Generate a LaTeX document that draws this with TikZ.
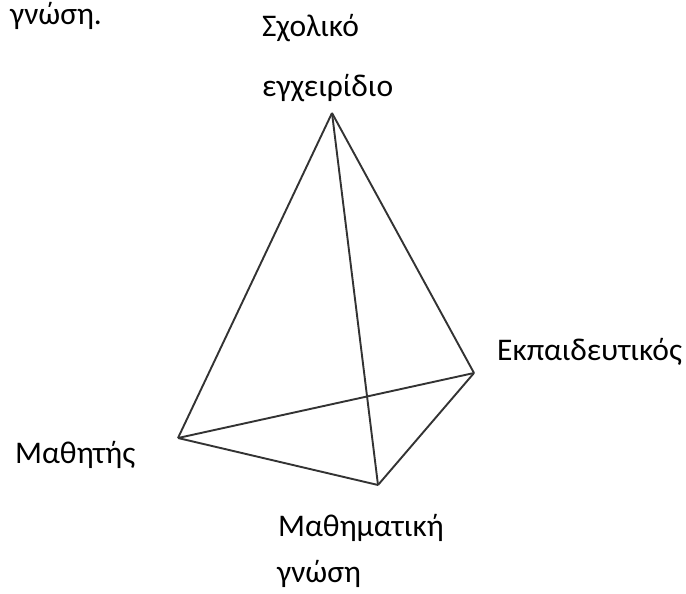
\documentclass[tikz,border=0pt]{standalone}
\usepackage{fontspec}
\setmainfont{Carlito}
\begin{document}
\begin{tikzpicture}[x=1pt,y=-1pt,
  lbl/.style={anchor=base west,inner sep=0pt,font=\fontsize{31.5}{31.5}\selectfont},
  edge/.style={draw=black!80,line width=1.9pt,line join=round}]
\useasboundingbox (0,0) rectangle (686,594);
\coordinate (A) at (332,113);
\coordinate (L) at (178,438);
\coordinate (R) at (474,373);
\coordinate (B) at (378,485);
\draw[edge] (A) -- (L);
\draw[edge] (A) -- (R);
\draw[edge] (A) -- (B);
\draw[edge] (L) -- (R);
\draw[edge] (L) -- (B);
\draw[edge] (B) -- (R);
\node[lbl] (t0) at (10,25) {γνώση.};
\node[lbl] (t1) at (262,37) {Σχολικό};
\node[lbl] (t2) at (262,97) {εγχειρίδιο};
\node[lbl] (t3) at (497,360) {Εκπαιδευτικός};
\node[lbl] (t4) at (15,463) {Μαθητής};
\node[lbl] (t5) at (278,536) {Μαθηματική};
\node[lbl] (t6) at (277,582) {γνώση};
\end{tikzpicture}
\end{document}
